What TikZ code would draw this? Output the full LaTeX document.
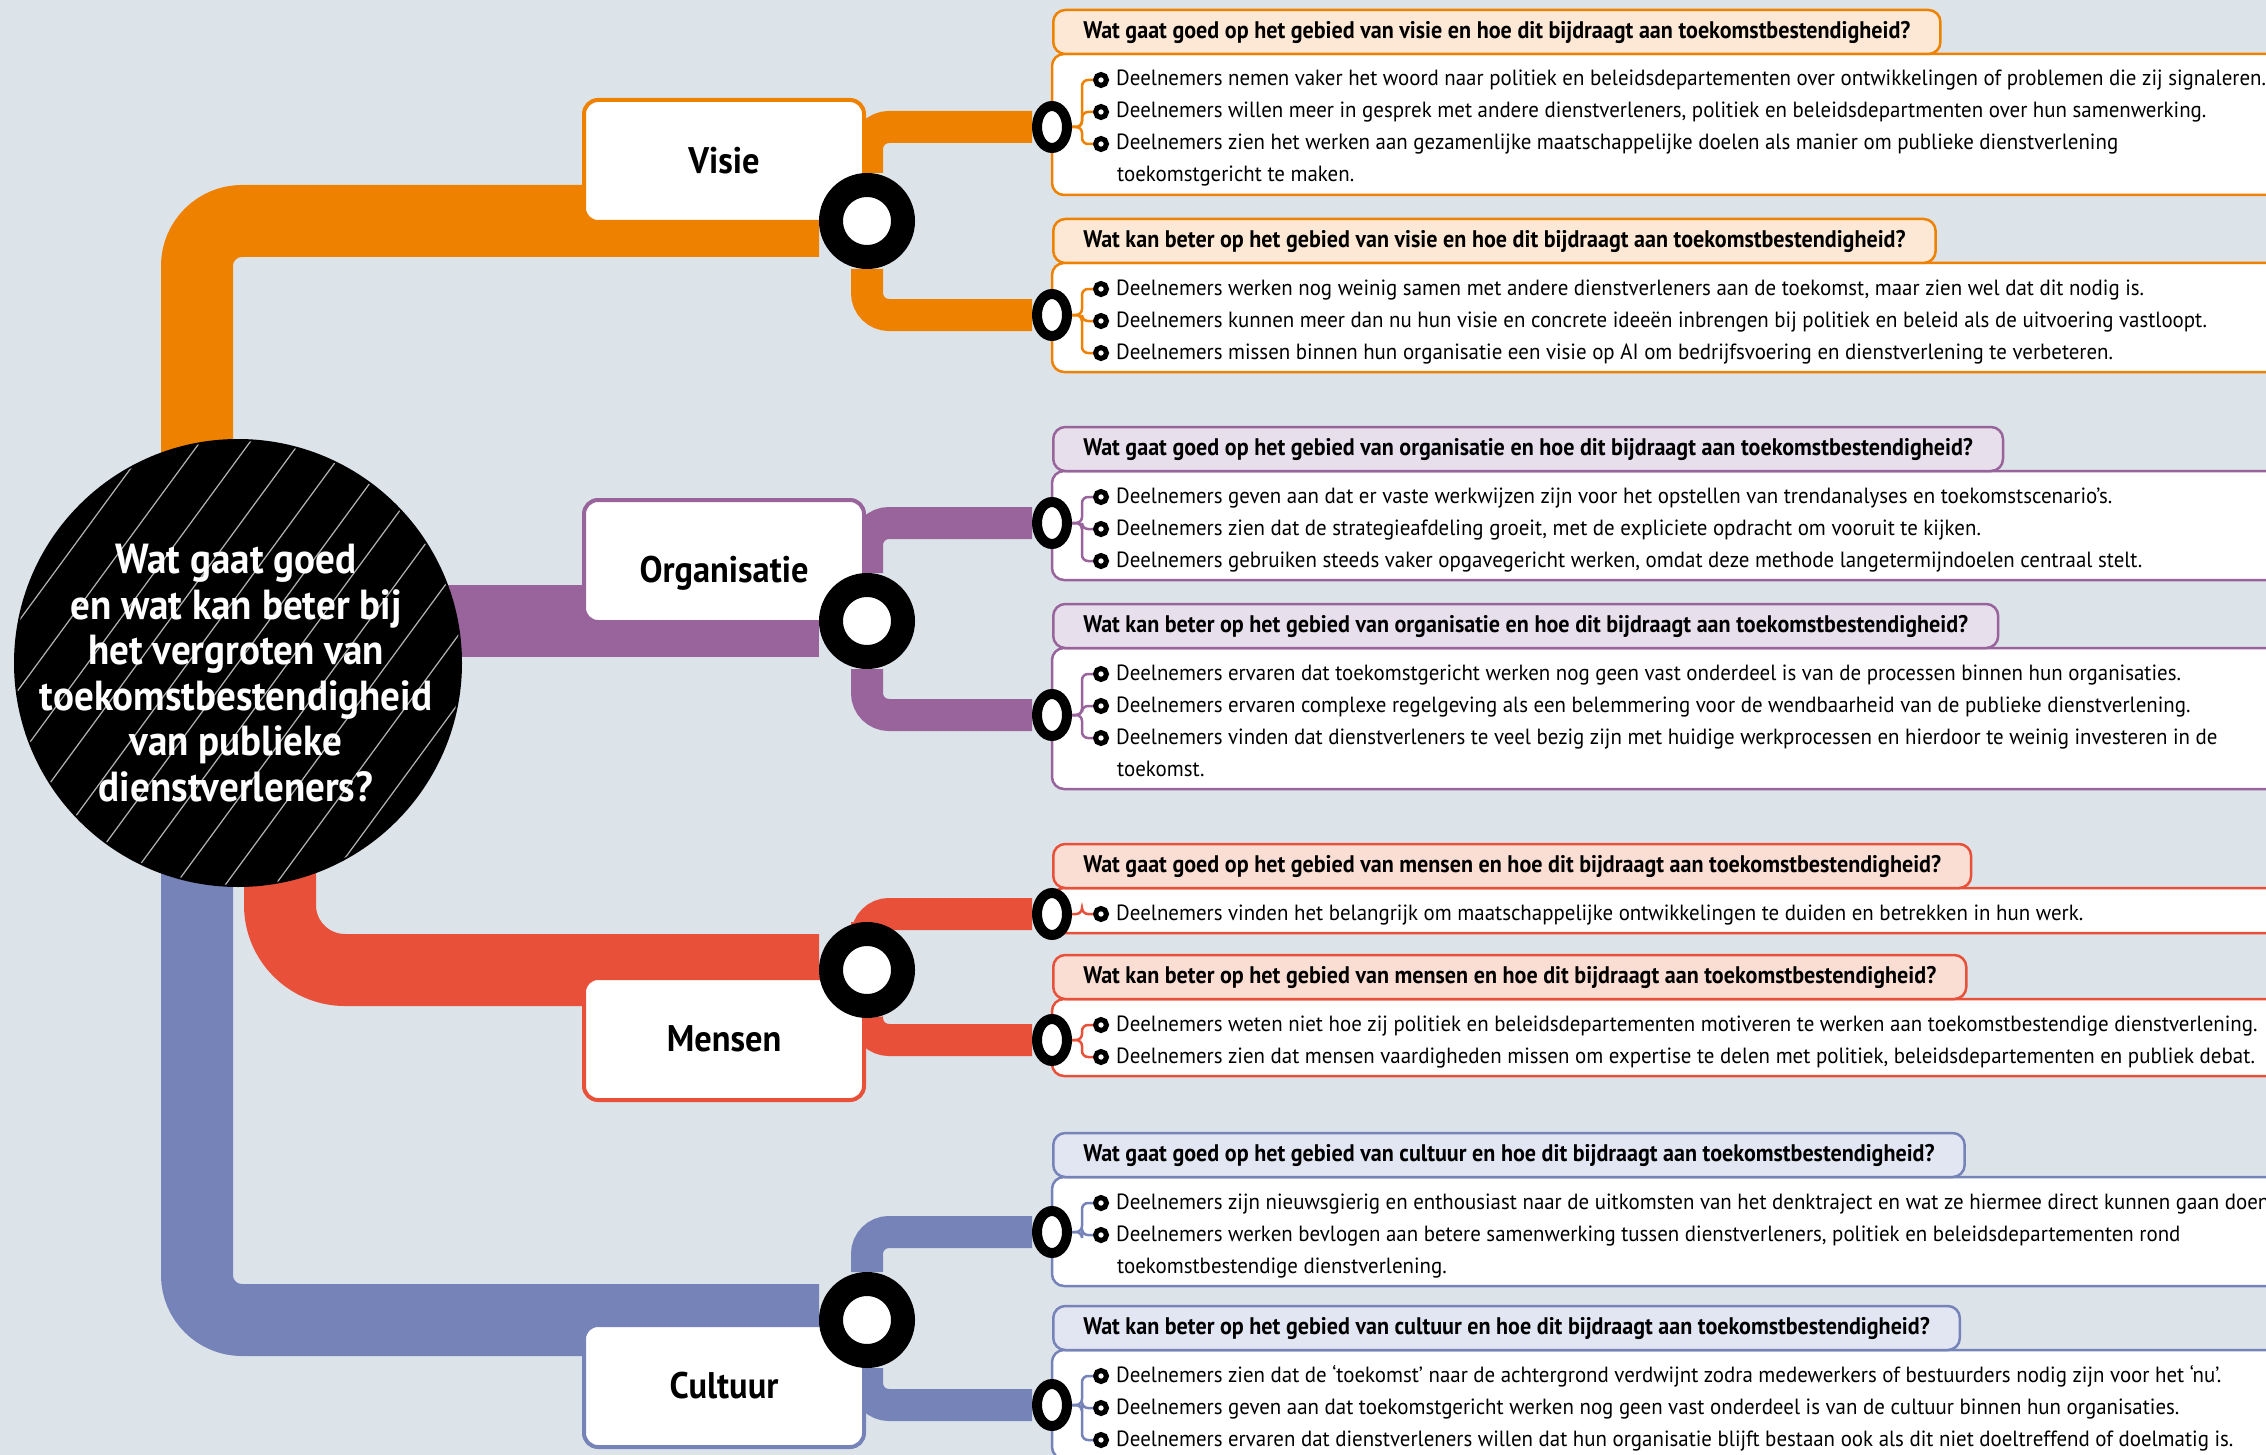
\documentclass[tikz,border=0pt]{standalone}
\usepackage{fontspec}
\setmainfont{PT Sans}
\newfontfamily\itemfont[FakeStretch=0.95]{PT Sans}	% body text of the items
\newfontfamily\headfont[FakeStretch=0.92]{PT Sans}	% questions in the tabs
\newfontfamily\hubfont[FakeStretch=0.93]{PT Sans}	% centre and theme labels
\usetikzlibrary{positioning,shapes.geometric}

\definecolor{paper}{HTML}{DCE4EA}
\definecolor{visiecol}{HTML}{EE8200}
\definecolor{visielight}{HTML}{FCE8D4}
\definecolor{orgcol}{HTML}{98649B}
\definecolor{orglight}{HTML}{E7DFEC}
\definecolor{menscol}{HTML}{E8503A}
\definecolor{menslight}{HTML}{FADED4}
\definecolor{cultcol}{HTML}{7683B9}
\definecolor{cultlight}{HTML}{E2E5F2}

\pgfdeclarelayer{bands}
\pgfsetlayers{bands,main}

\tikzset{
	mainband/.style={line width=72pt,rounded corners=45pt},
	branch/.style={line width=32pt,rounded corners=22pt},
	twig/.style={line width=2.5pt,rounded corners=6pt},
	hub/.style={circle,fill=black,minimum size=448pt,inner sep=0pt},
	hatch/.style={white,line width=1.2pt,opacity=.7},
	hubtext/.style={text=white,align=center,inner sep=0pt,font=\hubfont\bfseries\fontsize{42}{45.6}\selectfont},
	labelbox/.style={draw=#1,line width=4pt,fill=white,rounded corners=14pt,minimum width=280pt,minimum height=122pt,
		font=\hubfont\bfseries\fontsize{37}{42}\selectfont},
	bigring/.style={circle,draw=black,line width=24pt,fill=white,minimum size=72pt,inner sep=0pt},
	smallring/.style={ellipse,draw=black,line width=10pt,fill=white,minimum width=30pt,minimum height=42pt,inner sep=0pt},
	bulletring/.style={circle,draw=black,line width=5pt,fill=white,minimum size=11pt,inner sep=0pt},
	headtab/.style={draw=#1,line width=2.5pt,rounded corners=12pt,minimum height=44pt,inner xsep=30pt,anchor=west,
		text height=18pt,text depth=5pt,font=\headfont\bfseries\fontsize{24}{28}\selectfont},
	itemtext/.style={anchor=west,inner sep=0pt,text height=16pt,text depth=4pt,font=\itemfont\fontsize{22}{26}\selectfont}
}

% #1 name, #2 colour, #3 light colour, #4 title y, #5 rows, #6 question
\newcommand{\qpanel}[6]{
	\pgfmathsetmacro\pbottom{#4+47+32*(#5-1)+20}
	\draw[draw=#2,line width=2.5pt,fill=white,rounded corners=12pt]
		(2330,#4+22) -- (1052,#4+22) -- (1052,\pbottom) -- (2330,\pbottom);
	\node[headtab=#2,fill=#3] (#1) at (1052,#4) {#6};
}
% #1 name, #2 colour, #3 ring, #4 first row y, #5 items
\newcommand{\itemrows}[5]{
	\foreach \txt [count=\i] in {#5} {
		\pgfmathsetmacro\rowy{#4+32*(\i-1)}
		\node[bulletring] (#1B\i) at (1101,\rowy) {};
		\node[itemtext,right=7pt of #1B\i] (#1T\i) {\txt};
		\draw[twig,#2] (#3.east) -- ++(10,0) |- (#1B\i.west);
	}
}

\begin{document}
\begin{tikzpicture}[x=1pt,y=-1pt]
	\useasboundingbox (0,0) rectangle (2266,1455);
	\begin{pgfonlayer}{bands}
		\fill[paper] (0,0) rectangle (2266,1455);
	\end{pgfonlayer}
	\clip (0,0) rectangle (2266,1455);

	% centre question
	\node[hub] (hub) at (238,663) {};
	\begin{scope}
		\clip (hub.center) circle (222);
		\foreach \k in {-6,...,6}
			\draw[hatch] ([xshift=\k*50pt]hub.center) ++(-220,300) -- ++(440,-600);
	\end{scope}
	\node[hubtext] (question) at (236,673) {Wat gaat goed\\en wat kan beter bij\\het vergroten van\\toekomstbestendigheid\\van publieke\\dienstverleners?};

	% themes
	\node[labelbox=visiecol] (visie) at (724,161) {Visie};
	\node[labelbox=orgcol,text height=50pt,text depth=8pt] (organisatie) at (724,561) {Organisatie};
	\node[labelbox=menscol] (mensen) at (724,1039) {Mensen};
	\node[labelbox=cultcol] (cultuur) at (724,1386) {Cultuur};
	\node[bigring] (ringV) at (867,221) {};
	\node[bigring] (ringO) at (867,621) {};
	\node[bigring] (ringM) at (867,970) {};
	\node[bigring] (ringC) at (867,1320) {};

	% visie
	\qpanel{vGoed}{visiecol}{visielight}{32}{4}{Wat gaat goed op het gebied van visie en hoe dit bijdraagt aan toekomstbestendigheid?}
	\node[smallring] (vGoedR) at (1052,127) {};
	\itemrows{vGoed}{visiecol}{vGoedR}{80}{{Deelnemers nemen vaker het woord naar politiek en beleidsdepartementen over ontwikkelingen of problemen die zij signaleren.},{Deelnemers willen meer in gesprek met andere dienstverleners, politiek en beleidsdepartmenten over hun samenwerking.},{Deelnemers zien het werken aan gezamenlijke maatschappelijke doelen als manier om publieke dienstverlening}}
	\node[itemtext] (vGoedC) at (1117,176) {toekomstgericht te maken.};
	\qpanel{vBeter}{visiecol}{visielight}{241}{3}{Wat kan beter op het gebied van visie en hoe dit bijdraagt aan toekomstbestendigheid?}
	\node[smallring] (vBeterR) at (1052,315) {};
	\itemrows{vBeter}{visiecol}{vBeterR}{289}{{Deelnemers werken nog weinig samen met andere dienstverleners aan de toekomst, maar zien wel dat dit nodig is.},{Deelnemers kunnen meer dan nu hun visie en concrete ideeën inbrengen bij politiek en beleid als de uitvoering vastloopt.},{Deelnemers missen binnen hun organisatie een visie op AI om bedrijfsvoering en dienstverlening te verbeteren.}}

	% organisatie
	\qpanel{oGoed}{orgcol}{orglight}{449}{3}{Wat gaat goed op het gebied van organisatie en hoe dit bijdraagt aan toekomstbestendigheid?}
	\node[smallring] (oGoedR) at (1052,523) {};
	\itemrows{oGoed}{orgcol}{oGoedR}{497}{{Deelnemers geven aan dat er vaste werkwijzen zijn voor het opstellen van trendanalyses en toekomstscenario’s.},{Deelnemers zien dat de strategieafdeling groeit, met de expliciete opdracht om vooruit te kijken.},{Deelnemers gebruiken steeds vaker opgavegericht werken, omdat deze methode langetermijndoelen centraal stelt.}}
	\qpanel{oBeter}{orgcol}{orglight}{626}{4}{Wat kan beter op het gebied van organisatie en hoe dit bijdraagt aan toekomstbestendigheid?}
	\node[smallring] (oBeterR) at (1052,715) {};
	\itemrows{oBeter}{orgcol}{oBeterR}{674}{{Deelnemers ervaren dat toekomstgericht werken nog geen vast onderdeel is van de processen binnen hun organisaties.},{Deelnemers ervaren complexe regelgeving als een belemmering voor de wendbaarheid van de publieke dienstverlening.},{Deelnemers vinden dat dienstverleners te veel bezig zijn met huidige werkprocessen en hierdoor te weinig investeren in de}}
	\node[itemtext] (oBeterC) at (1117,770) {toekomst.};

	% mensen
	\qpanel{mGoed}{menscol}{menslight}{866}{1}{Wat gaat goed op het gebied van mensen en hoe dit bijdraagt aan toekomstbestendigheid?}
	\node[smallring] (mGoedR) at (1052,914) {};
	\itemrows{mGoed}{menscol}{mGoedR}{914}{{Deelnemers vinden het belangrijk om maatschappelijke ontwikkelingen te duiden en betrekken in hun werk.}}
	\qpanel{mBeter}{menscol}{menslight}{977}{2}{Wat kan beter op het gebied van mensen en hoe dit bijdraagt aan toekomstbestendigheid?}
	\node[smallring] (mBeterR) at (1052,1040) {};
	\itemrows{mBeter}{menscol}{mBeterR}{1025}{{Deelnemers weten niet hoe zij politiek en beleidsdepartementen motiveren te werken aan toekomstbestendige dienstverlening.},{Deelnemers zien dat mensen vaardigheden missen om expertise te delen met politiek, beleidsdepartementen en publiek debat.}}

	% cultuur
	\qpanel{cGoed}{cultcol}{cultlight}{1155}{3}{Wat gaat goed op het gebied van cultuur en hoe dit bijdraagt aan toekomstbestendigheid?}
	\node[smallring] (cGoedR) at (1052,1232) {};
	\itemrows{cGoed}{cultcol}{cGoedR}{1203}{{Deelnemers zijn nieuwsgierig en enthousiast naar de uitkomsten van het denktraject en wat ze hiermee direct kunnen gaan doen},{Deelnemers werken bevlogen aan betere samenwerking tussen dienstverleners, politiek en beleidsdepartementen rond}}
	\node[itemtext] (cGoedC) at (1117,1267) {toekomstbestendige dienstverlening.};
	\qpanel{cBeter}{cultcol}{cultlight}{1328}{3}{Wat kan beter op het gebied van cultuur en hoe dit bijdraagt aan toekomstbestendigheid?}
	\node[smallring] (cBeterR) at (1052,1405) {};
	\itemrows{cBeter}{cultcol}{cBeterR}{1376}{{Deelnemers zien dat de ‘toekomst’ naar de achtergrond verdwijnt zodra medewerkers of bestuurders nodig zijn voor het ‘nu’.},{Deelnemers geven aan dat toekomstgericht werken nog geen vast onderdeel is van de cultuur binnen hun organisaties.},{Deelnemers ervaren dat dienstverleners willen dat hun organisatie blijft bestaan ook als dit niet doeltreffend of doelmatig is.}}

	% connectors behind everything
	\begin{pgfonlayer}{bands}
		\draw[mainband,visiecol] ([xshift=-41pt]hub.center) |- (ringV);
		\draw[mainband,orgcol] (hub.center |- ringO) -- (ringO);
		\draw[mainband,menscol,rounded corners=65pt] ([xshift=42pt]hub.center) |- (ringM);
		\draw[mainband,cultcol] ([xshift=-41pt]hub.center) |- (ringC);
		\draw[branch,visiecol] (ringV) |- (vGoedR);
		\draw[branch,visiecol] (ringV) |- (vBeterR);
		\draw[branch,orgcol] (ringO) |- (oGoedR);
		\draw[branch,orgcol] (ringO) |- (oBeterR);
		\draw[branch,menscol] (ringM) |- (mGoedR);
		\draw[branch,menscol] (ringM) |- (mBeterR);
		\draw[branch,cultcol] (ringC) |- (cGoedR);
		\draw[branch,cultcol] (ringC) |- (cBeterR);
	\end{pgfonlayer}
\end{tikzpicture}
\end{document}
